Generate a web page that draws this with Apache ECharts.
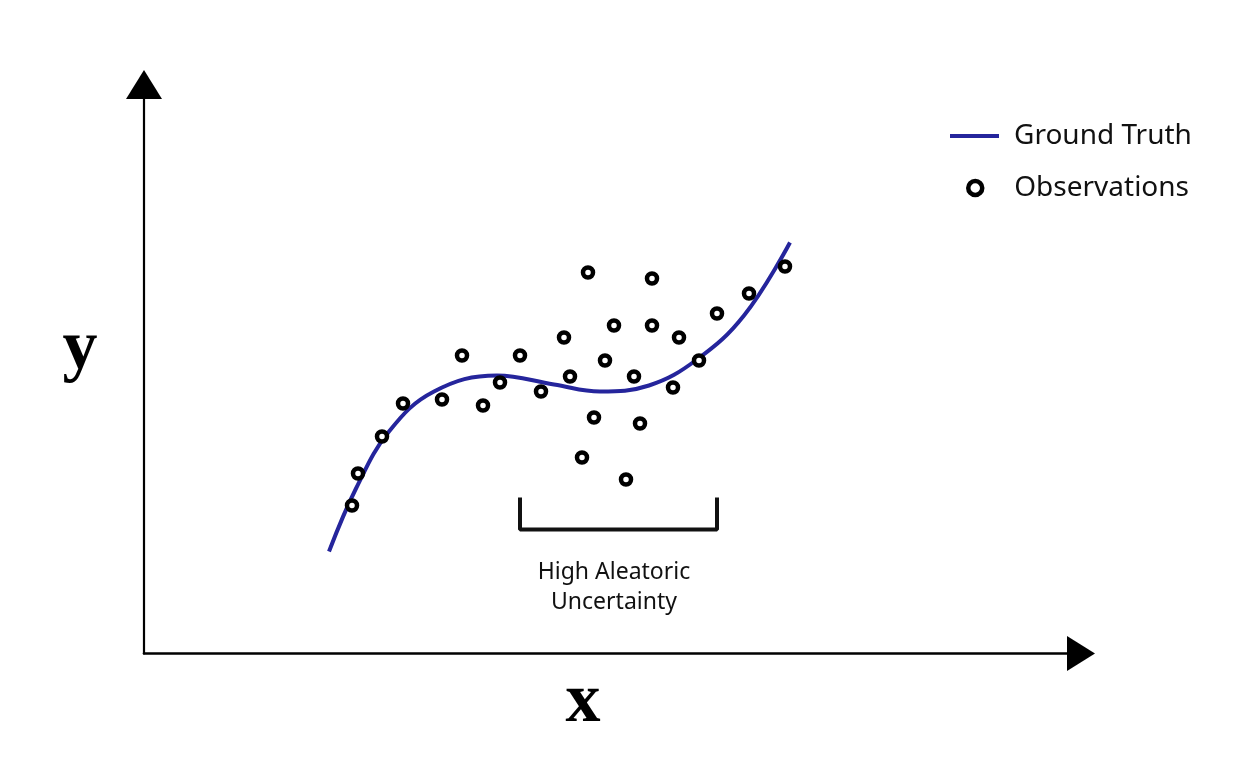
<!DOCTYPE html>
<html>
<head>
<meta charset="utf-8">
<script src="https://cdn.jsdelivr.net/npm/echarts@6/dist/echarts.min.js"></script>
<style>
  html, body { margin: 0; padding: 0; background: #fff; }
  #main { width: 1260px; height: 768px; }
</style>
</head>
<body>
<div id="main"></div>
<script>
// ground truth curve (x, y)
const truthX = [185, 212, 245, 290, 353, 410, 456, 505, 553, 600, 646];
const truthY = [102, 165, 222, 262, 278, 269, 262, 268, 294, 338, 411];

// noisy observations
const obsX = [208, 214, 238, 259, 298, 318, 339, 356, 376, 397, 420, 426, 444, 438,
  450, 461, 470, 482, 490, 496, 508, 508, 535, 529, 555, 573, 605, 641];
const obsY = [148, 180, 217, 250, 254, 298, 248, 271, 298, 262, 316, 277, 381, 196,
  236, 293, 328, 174, 277, 230, 375, 328, 316, 266, 293, 340, 360, 387];

// bracket under the noisy region
const bracketX = [376, 376, 573, 573];
const bracketY = [154, 124, 124, 154];

const seriesNames = ['Ground Truth', 'Observations'];
const noteLines = ['High Aleatoric', 'Uncertainty'];

const chart = echarts.init(document.getElementById('main'));

let option = {
  animation: false,
  backgroundColor: '#fff',
  grid: { left: 144, right: 179, top: 84.5, bottom: 114.5 },
  xAxis: {
    type: 'value',
    min: 0,
    max: 937,
    axisLine: {
      show: true,
      symbol: ['none', 'triangle'],
      symbolSize: [35, 28],
      lineStyle: { color: '#000', width: 2.6 }
    },
    axisTick: { show: false },
    axisLabel: { show: false },
    splitLine: { show: false }
  },
  yAxis: {
    type: 'value',
    min: 0,
    max: 569,
    axisLine: {
      show: true,
      symbol: ['none', 'triangle'],
      symbolSize: [36, 29],
      lineStyle: { color: '#000', width: 2.2 }
    },
    axisTick: { show: false },
    axisLabel: { show: false },
    splitLine: { show: false }
  },
  legend: [{
    data: [{ name: seriesNames[0], icon: 'rect' }],
    left: 950,
    top: 122,
    padding: 0,
    itemWidth: 49,
    itemHeight: 4,
    itemStyle: { color: '#25259c' },
    textStyle: { fontFamily: 'Noto Sans', fontSize: 28, color: '#111', padding: [0, 0, 0, 10] }
  }, {
    data: [{ name: seriesNames[1], icon: 'circle' }],
    left: 966,
    top: 174,
    padding: 0,
    itemWidth: 14,
    itemHeight: 14,
    itemStyle: { color: '#fff', borderColor: '#000', borderWidth: 4.5 },
    textStyle: { fontFamily: 'Noto Sans', fontSize: 28, color: '#111', padding: [0, 0, 0, 27] }
  }],
  series: [{
    name: seriesNames[0],
    type: 'line',
    smooth: 0.4,
    showSymbol: false,
    silent: true,
    lineStyle: { color: '#25259c', width: 4 },
    itemStyle: { color: '#25259c' },
    data: truthX.map((x, i) => [x, truthY[i]]),
    z: 2
  }, {
    name: seriesNames[1],
    type: 'scatter',
    symbol: 'circle',
    symbolSize: 10,
    itemStyle: { color: '#fff', borderColor: '#000', borderWidth: 4.5, opacity: 1 },
    data: obsX.map((x, i) => [x, obsY[i]]),
    z: 3
  }, {
    name: 'bracket',
    type: 'line',
    showSymbol: false,
    silent: true,
    lineStyle: { color: '#111', width: 4, cap: 'square' },
    data: bracketX.map((x, i) => [x, bracketY[i]]),
    z: 2
  }],
  graphic: [{
    type: 'text',
    x: 614,
    y: 557,
    style: {
      text: noteLines.join('\n'),
      fontFamily: 'Noto Sans',
      fontSize: 23,
      lineHeight: 30,
      fill: '#111',
      align: 'center'
    }
  }, {
    type: 'text',
    x: 80,
    y: 350,
    style: {
      text: 'y', fontFamily: 'Liberation Serif', fontWeight: 'bold', fontSize: 70, fill: '#000',
      align: 'center', verticalAlign: 'middle'
    }
  }, {
    type: 'text',
    x: 583,
    y: 703,
    style: {
      text: 'x', fontFamily: 'Liberation Serif', fontWeight: 'bold', fontSize: 70, fill: '#000',
      align: 'center', verticalAlign: 'middle'
    }
  }]
};

chart.setOption(option);
</script>
</body>
</html>
